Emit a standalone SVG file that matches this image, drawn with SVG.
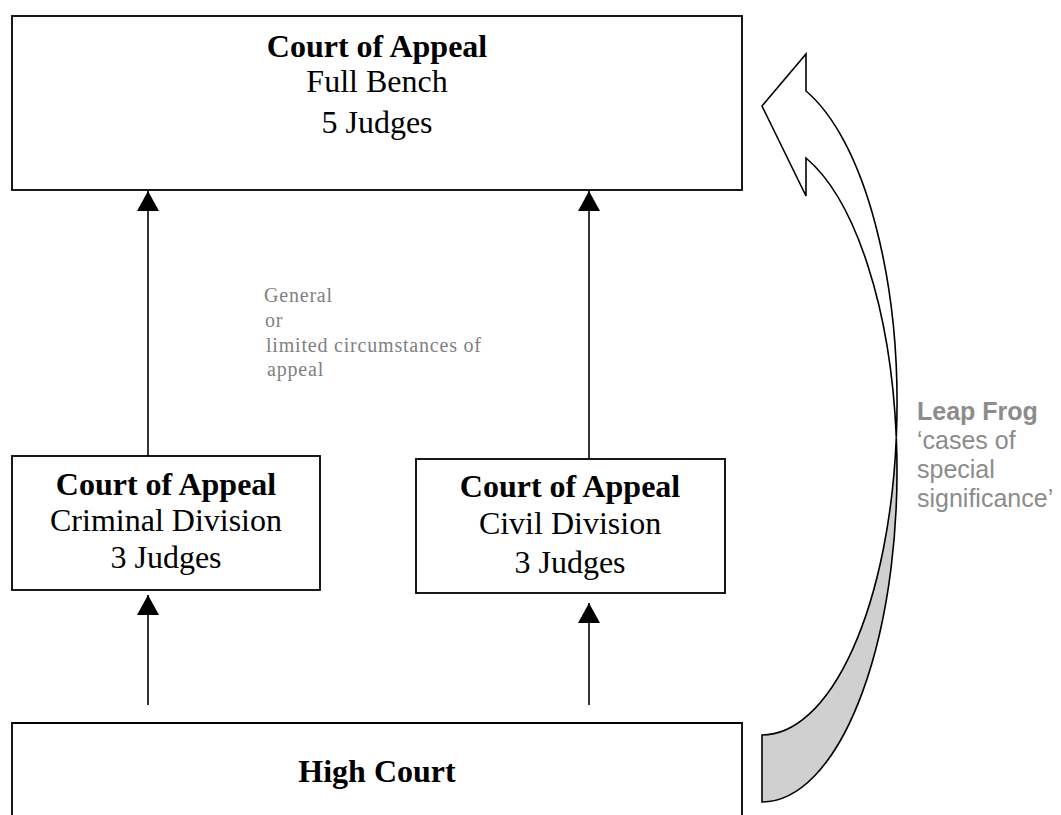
<svg xmlns="http://www.w3.org/2000/svg" width="1061" height="815" viewBox="0 0 1061 815">
  <defs>
    <style>
      .box { fill: #ffffff; stroke: #000000; stroke-width: 1.8; }
      .t { font-family: "Liberation Serif", "Times New Roman", serif; font-size: 32px; fill: #000000; text-anchor: middle; }
      .b { font-weight: bold; }
      .note { font-family: "Liberation Serif", "Times New Roman", serif; font-size: 20px; fill: #808080; letter-spacing: 0.8px; }
      .leap { font-family: "Liberation Sans", Arial, sans-serif; font-size: 25px; fill: #8c8c8c; }
      .conn { stroke: #000000; stroke-width: 1.6; fill: none; marker-end: url(#ah); }
      .ribbon { stroke: #000000; stroke-width: 1.6; stroke-linejoin: miter; }
    </style>
    <marker id="ah" viewBox="0 0 20 22" refX="20" refY="11" markerWidth="20" markerHeight="22" markerUnits="userSpaceOnUse" orient="auto">
      <path d="M0,0 L20,11 L0,22 Z" fill="#000000"/>
    </marker>
  </defs>

  <g id="full-bench">
    <rect class="box" x="12" y="16" width="730" height="174"/>
    <text class="t b" x="377" y="57">Court of Appeal</text>
    <text class="t" x="377" y="92">Full Bench</text>
    <text class="t" x="377" y="133">5 Judges</text>
  </g>

  <g id="criminal-division">
    <rect class="box" x="12" y="456" width="308" height="134"/>
    <text class="t b" x="166" y="495">Court of Appeal</text>
    <text class="t" x="166" y="531">Criminal Division</text>
    <text class="t" x="166" y="568">3 Judges</text>
  </g>

  <g id="civil-division">
    <rect class="box" x="416" y="459" width="309" height="134"/>
    <text class="t b" x="570" y="497">Court of Appeal</text>
    <text class="t" x="570" y="534">Civil Division</text>
    <text class="t" x="570" y="573">3 Judges</text>
  </g>

  <g id="high-court">
    <path class="box" d="M12,830 L12,723 L742,723 L742,830"/>
    <text class="t b" x="377" y="782">High Court</text>
  </g>

  <g id="appeal-note">
    <text class="note" x="264" y="302">General</text>
    <text class="note" x="265" y="327">or</text>
    <text class="note" x="266" y="352">limited circumstances of</text>
    <text class="note" x="267" y="376">appeal</text>
  </g>

  <g id="leap-frog">
    <path class="ribbon" fill="#d0d0d0" d="M762,735 A135,331 0 0 0 896.3,437.5 A135,331 0 0 1 762,802 Z"/>
    <path class="ribbon" fill="#ffffff" d="M896.3,437.5 A135,331 0 0 0 806,91 L806,54 L762,106 L806,196 L806,158 A135,331 0 0 1 896.3,437.5 Z"/>
    <text class="leap" x="917" y="420" font-weight="bold">Leap Frog</text>
    <text class="leap" x="917" y="449">‘cases of</text>
    <text class="leap" x="917" y="478">special</text>
    <text class="leap" x="917" y="507">significance’</text>
  </g>

  <g id="connectors">
    <line class="conn" x1="148" y1="456" x2="148" y2="191"/>
    <line class="conn" x1="589" y1="459" x2="589" y2="191"/>
    <line class="conn" x1="148" y1="705" x2="148" y2="595"/>
    <line class="conn" x1="589" y1="705" x2="589" y2="603"/>
  </g>
</svg>
